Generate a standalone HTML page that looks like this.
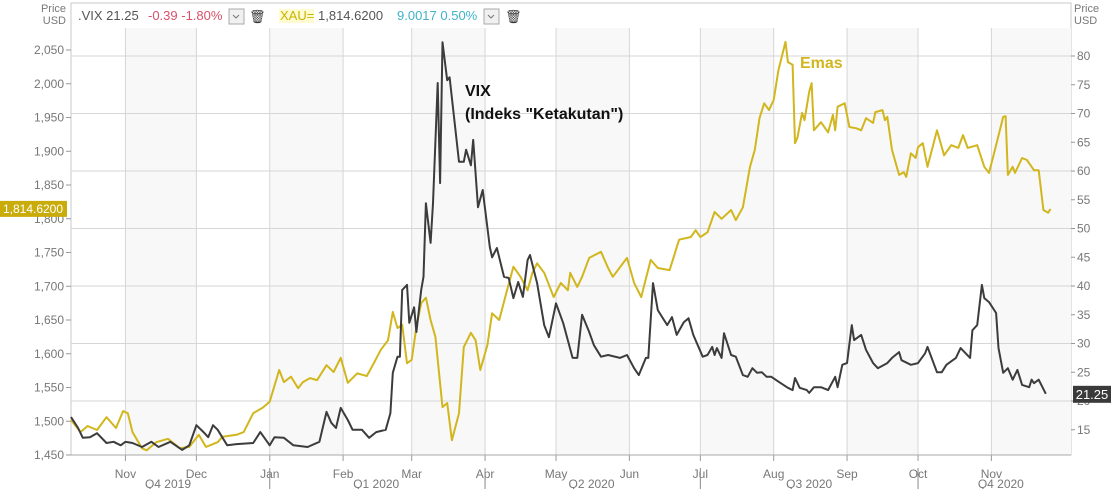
<!DOCTYPE html>
<html><head><meta charset="utf-8"><style>
body{margin:0;background:#fff;font-family:"Liberation Sans",sans-serif;}
svg text{font-family:"Liberation Sans",sans-serif;}
</style></head><body>
<svg id="chart" width="1113" height="489" xmlns="http://www.w3.org/2000/svg">
<g id="bands"></g><g id="grid"></g><g id="axes"></g><g id="series"></g><g id="labels"></g>
<g font-size="13">
  <text x="66" y="12" text-anchor="end" font-size="11" fill="#777">Price</text>
  <text x="66" y="24" text-anchor="end" font-size="11" fill="#777">USD</text>
  <text x="1074" y="12" font-size="11" fill="#777">Price</text>
  <text x="1074" y="24" font-size="11" fill="#777">USD</text>
  <text x="78" y="20" fill="#555">.VIX 21.25</text>
  <text x="148" y="20" fill="#d9506a">-0.39 -1.80%</text>
  <rect x="229" y="9" width="15" height="15" fill="#f0f0f0" stroke="#aaa"/>
  <path d="M233 15 l3 3 l3 -3" stroke="#777" fill="none"/>
  <text x="249" y="21" fill="#333" font-size="13">🗑</text>
  <rect x="279" y="9" width="35" height="14" fill="#fffbd0"/>
  <text x="280" y="20" fill="#c8b400">XAU=</text>
  <text x="318" y="20" fill="#555">1,814.6200</text>
  <text x="397" y="20" fill="#3fb3c8">9.0017 0.50%</text>
  <rect x="484" y="9" width="15" height="15" fill="#f0f0f0" stroke="#aaa"/>
  <path d="M488 15 l3 3 l3 -3" stroke="#777" fill="none"/>
  <text x="505" y="21" fill="#333" font-size="13">🗑</text>
</g>
</svg>
<script>
const monthNames=["Nov","Dec","Jan","Feb","Mar","Apr","May","Jun","Jul","Aug","Sep","Oct","Nov"];
const monthDays=[23,53,84,115,144,175,205,236,266,297,328,358,389];
const quarterNames=["Q4 2019","Q1 2020","Q2 2020","Q3 2020","Q4 2020"];
const quarterCenters=[41,129,220,312,393];
const quarterStarts=[84,175,266,358];
const goldTicks=[1450,1500,1550,1600,1650,1700,1750,1800,1850,1900,1950,2000,2050];
const vixTicks=[15,20,25,30,35,40,45,50,55,60,65,70,75,80];
const vixGrid=[20,30,40,50,60,70,80];
const goldDays=[0,4,7,11,15,19,22,24,26,30,32,36,41,46,50,54,57,62,64,70,73,77,81,84,88,90,93,96,98,101,104,108,111,114,117,121,123,125,128,131,134,136,138,140,142,144,146,148,150,152,154,157,159,161,164,166,169,171,173,176,178,181,184,187,190,193,195,197,200,204,207,210,211,214,216,219,224,227,229,235,238,241,245,248,253,257,262,264,266,269,272,275,279,281,284,287,289,291,293,295,297,299,302,303,305,306,307,309,310,312,313,314,317,320,322,323,324,327,329,332,334,336,339,340,343,344,345,347,350,352,353,355,357,358,360,362,366,369,372,375,377,379,383,386,388,391,394,395,396,398,399,402,404,407,409,411,413,414];
const goldValues=[1502,1484,1493,1487,1506,1490,1515,1512,1484,1460,1457,1469,1474,1460,1462,1480,1462,1469,1477,1480,1484,1512,1520,1529,1576,1558,1566,1549,1558,1564,1561,1583,1573,1594,1557,1571,1569,1567,1586,1606,1620,1662,1638,1643,1586,1591,1640,1675,1683,1650,1625,1521,1527,1472,1512,1610,1631,1620,1576,1613,1660,1650,1690,1729,1714,1694,1720,1734,1720,1684,1705,1694,1720,1699,1714,1742,1751,1727,1714,1742,1705,1684,1739,1727,1724,1769,1773,1783,1773,1780,1810,1800,1813,1798,1817,1877,1902,1949,1971,1961,1976,2020,2062,2032,2028,1912,1920,1957,1946,1988,2001,1931,1943,1928,1954,1931,1966,1971,1936,1934,1931,1949,1942,1958,1961,1946,1951,1902,1865,1869,1862,1897,1890,1906,1912,1877,1931,1894,1909,1905,1924,1905,1909,1877,1868,1909,1951,1952,1865,1877,1868,1890,1887,1872,1872,1813,1809,1814.62];
const vixDays=[0,3,5,8,11,15,18,21,23,26,30,34,37,42,47,50,53,56,58,60,62,66,70,77,80,84,86,90,94,100,105,108,110,112,114,117,119,123,126,129,133,135,136,138,139,140,142,143,145,146,148,149,150,152,153,155,156,157,159,160,164,166,167,169,170,172,174,177,178,180,183,185,187,189,191,193,194,197,200,202,205,208,212,214,216,219,221,224,227,232,235,238,240,243,244,246,248,252,254,256,259,261,263,267,269,271,272,273,275,276,279,281,284,286,288,290,292,294,296,300,303,305,306,308,311,312,314,317,320,323,324,326,328,330,331,334,336,339,341,345,347,350,351,355,358,361,362,366,368,370,374,376,380,381,383,385,386,388,391,392,394,396,398,400,402,405,406,407,409,412];
const vixValues=[17.2,15.3,13.6,13.7,14.4,12.7,12.9,12.3,12.9,12.7,12.0,12.9,12.0,12.9,11.5,12.3,15.8,14.6,13.7,15.8,15.0,12.3,12.5,12.7,14.6,12.3,13.7,13.6,12.3,12.0,12.9,18.1,16.2,15.3,18.8,16.7,15.0,15.0,13.6,14.6,15.0,17.9,24.9,27.7,27.7,39.3,40.2,33.6,36.3,32.0,39.3,41.6,54.4,47.5,54.4,75.3,57.9,82.4,75.8,76.3,61.6,61.6,63.7,61.0,65.4,53.7,56.7,46.8,45.0,46.6,41.6,41.4,37.9,40.7,38.1,44.5,45.4,40.5,33.2,31.1,37.0,33.6,27.5,27.5,35.0,32.0,29.7,27.7,28.0,27.5,28.0,25.7,24.5,27.5,27.5,40.5,35.8,33.2,34.6,31.5,33.7,34.4,31.5,27.7,28.0,29.4,28.0,29.2,27.5,31.8,28.0,27.7,24.5,24.2,25.7,24.9,25.0,24.2,24.2,23.1,22.3,21.9,24.0,22.3,21.9,21.4,22.4,22.4,21.9,24.2,22.4,26.3,26.6,33.2,30.6,31.5,28.9,26.6,25.7,26.6,27.5,28.5,27.1,26.3,26.6,28.3,29.4,25.0,25.0,26.3,27.5,29.2,27.5,32.3,33.2,40.2,37.9,37.2,35.3,29.2,24.9,25.7,23.7,25.4,22.8,22.4,23.7,23.1,23.7,21.25];

const L=71,R=1071,T=28,B=455;
const xs=d=>L+d*2.366;
const yG=v=>50+(2050-v)*0.675;
const yV=v=>56+(80-v)*5.75;
const NS="http://www.w3.org/2000/svg";
function mk(tag,attrs,parent,text){const e=document.createElementNS(NS,tag);for(const k in attrs)e.setAttribute(k,attrs[k]);if(text!=null)e.textContent=text;document.getElementById(parent).appendChild(e);return e;}

// frame/background
let fr=mk('rect',{x:L,y:3,width:R-L,height:B-3,fill:'#fff',stroke:'#c8c8c8'},'bands');


// month bands
const bandEdges=[0].concat(monthDays).concat([(R-L)/2.366]);
for(let i=0;i<bandEdges.length-1;i++){
  if(i%2===1){
    const b=mk('rect',{x:xs(bandEdges[i]),y:T,width:xs(bandEdges[i+1])-xs(bandEdges[i]),height:B-T,fill:'#f8f8f8'},'bands');
    
    
  }
}
// vertical grid + month labels
monthDays.forEach((d,i)=>{
  const x=xs(d);
  const g=mk('line',{x1:x,y1:T,x2:x,y2:B,stroke:'#d6d6d6'},'grid');
  
  
  mk('line',{x1:x,y1:B,x2:x,y2:B+6,stroke:'#999'},'axes');
  const t=mk('text',{x:x,y:478,'text-anchor':'middle','font-size':12,fill:'#777'},'axes',monthNames[i]);
  
  
});
quarterStarts.forEach(d=>{mk('line',{x1:xs(d),y1:468,x2:xs(d),y2:489,stroke:'#888'},'axes');});
quarterNames.forEach((q,i)=>{
  const t=mk('text',{x:xs(quarterCenters[i]),y:488,'text-anchor':'middle','font-size':12,fill:'#777'},'axes',q);
  
  
});
// horizontal grid
vixGrid.forEach(v=>{
  const g=mk('line',{x1:L,y1:yV(v),x2:R,y2:yV(v),stroke:'#d6d6d6'},'grid');
  
  
});
mk('line',{x1:L,y1:B,x2:R,y2:B,stroke:'#aaa'},'axes');
// left axis
goldTicks.forEach(v=>{
  const y=yG(v);
  mk('line',{x1:L-5,y1:y,x2:L,y2:y,stroke:'#999'},'axes');
  const t=mk('text',{x:L-7,y:y+4,'text-anchor':'end','font-size':12,fill:'#777'},'axes',v.toLocaleString('en-US'));
  
  
});
// right axis
vixTicks.forEach(v=>{
  const y=yV(v);
  mk('line',{x1:R,y1:y,x2:R+4,y2:y,stroke:'#999'},'axes');
  const t=mk('text',{x:R+6,y:y+4,'font-size':12,fill:'#777'},'axes',String(v));
  
  
});
// series
function line(days,vals,yf,color,name){
  const d=days.map((dd,i)=>(i?'L':'M')+xs(dd).toFixed(1)+' '+yf(vals[i]).toFixed(1)).join(' ');
  const p=mk('path',{d:d,fill:'none',stroke:color,'stroke-width':2,'stroke-linejoin':'round'},'series');
  
  
}
line(goldDays,goldValues,yG,'#d1b61e','gold-line');
line(vixDays,vixValues,yV,'#3c3c3c','vix-line');
// last value badges
const gy=yG(goldValues[goldValues.length-1]);
let gb=mk('rect',{x:0,y:gy-8,width:67,height:16,fill:'#c9ab0a'},'labels');


mk('text',{x:33,y:gy+4,'text-anchor':'middle','font-size':12,fill:'#fff'},'labels',goldValues[goldValues.length-1].toLocaleString('en-US',{minimumFractionDigits:4}));
const vy=yV(vixValues[vixValues.length-1]);
let vb=mk('rect',{x:R+2,y:vy-8,width:38,height:17,fill:'#3a3a3a'},'labels');


mk('text',{x:R+21,y:vy+5,'text-anchor':'middle','font-size':13,fill:'#fff'},'labels',vixValues[vixValues.length-1].toFixed(2));
// annotations
let a1=mk('text',{x:465,y:96,'font-size':16,'font-weight':'bold',fill:'#111'},'labels','VIX');


let a2=mk('text',{x:465,y:119,'font-size':16,'font-weight':'bold',fill:'#111'},'labels','(Indeks "Ketakutan")');


let a3=mk('text',{x:800,y:68,'font-size':16,'font-weight':'bold',fill:'#d1b61e'},'labels','Emas');


</script>
</body></html>
